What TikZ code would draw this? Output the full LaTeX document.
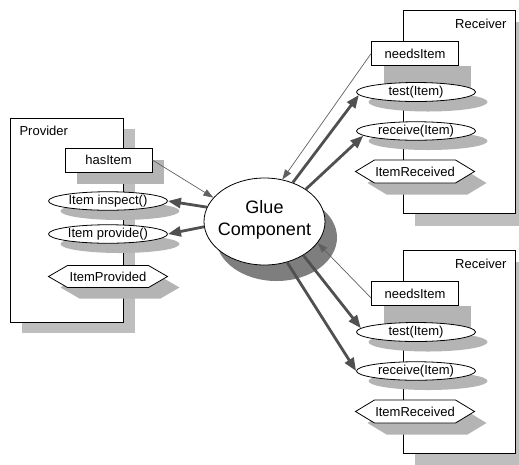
\documentclass[tikz,border=0pt]{standalone}
\usepackage{fontspec}
\setmainfont{Liberation Sans}
\usetikzlibrary{shapes.geometric,arrows.meta}
\definecolor{shd}{HTML}{B4B4B4}
\definecolor{bshd}{HTML}{BEBEBE}
\definecolor{gshd}{HTML}{7E7E7E}
\definecolor{arrc}{HTML}{505050}
\definecolor{thinc}{HTML}{606060}
\newcommand\hexagonat[4]{\path[#1] (#2-59.5,#3) -- (#2-40.5,#3-#4) -- (#2+40.5,#3-#4) -- (#2+59.5,#3) -- (#2+40.5,#3+#4) -- (#2-40.5,#3+#4) -- cycle;}
\begin{document}
\begin{tikzpicture}[x=1pt,y=-1pt,
  lbl/.style={font=\fontsize{13}{15}\selectfont},
  frame/.style={draw=black,line width=0.8pt,fill=white},
  bigbox/.style={frame,minimum width=113pt,minimum height=204pt,inner sep=0pt,anchor=north west},
  rectnode/.style={frame,minimum width=87pt,minimum height=24pt,inner sep=0pt,lbl},
  ellnode/.style={ellipse,frame,minimum width=119pt,minimum height=18.5pt,inner sep=0pt,lbl},
  thinarr/.style={draw=thinc,line width=0.7pt,-{Triangle[length=10pt,width=7pt]}},
  thickarr/.style={draw=arrc,line width=2.8pt,-{Triangle[length=13pt,width=10pt]}}
]
\useasboundingbox (0,0) rectangle (519,464);
% big box shadows
\fill[bshd] (22,129) rectangle (135,333);
\fill[bshd] (415,22) rectangle (530,226);
\fill[bshd] (415,262) rectangle (530,466);
% big boxes
\node[bigbox] (prov) at (10,118) {};
\node[bigbox,minimum width=112pt,minimum height=203pt] (recA) at (403,10) {};
\node[bigbox,minimum width=112pt,minimum height=203pt] (recB) at (403,250) {};
\node[lbl,anchor=base west] (provlbl) at (16,135) {Provider};
\node[lbl,anchor=base east] (recAlbl) at (510,28) {Receiver};
\node[lbl,anchor=base east] (recBlbl) at (510,268) {Receiver};
% element shadows
\fill[shd] (77,160) rectangle (164,184);
\fill[shd] (120,211) ellipse [x radius=59.5,y radius=9];
\fill[shd] (120,244) ellipse [x radius=59.5,y radius=9];
\hexagonat{fill=shd}{120}{287.5}{11}
\fill[shd] (383.5,65.5) rectangle (470.5,89.5);
\fill[shd] (428,102) ellipse [x radius=59.5,y radius=9.5];
\fill[shd] (428,141) ellipse [x radius=59.5,y radius=9];
\hexagonat{fill=shd}{427}{183}{11.5}
\fill[shd] (383.5,305.5) rectangle (470.5,329.5);
\fill[shd] (428,342) ellipse [x radius=59.5,y radius=9.5];
\fill[shd] (428,381) ellipse [x radius=59.5,y radius=9];
\hexagonat{fill=shd}{427}{423}{11.5}
% glue shadow and glue
\fill[gshd] (276.5,237.5) ellipse [x radius=60.5,y radius=43.5];
\node[ellipse,frame,minimum width=121pt,minimum height=87pt,inner sep=0pt] (glue) at (264.5,221.5) {};
\node[font=\fontsize{18}{22}\selectfont,align=center] (gluetxt) at (264.5,220) {Glue\\Component};
% provider elements
\node[rectnode] (hasItem) at (108.5,160) {hasItem};
\node[ellnode] (inspect) at (108,201) {Item inspect()};
\node[ellnode] (provide) at (108,234) {Item provide()};
\hexagonat{draw=black,line width=0.8pt,fill=white}{108}{276.5}{11}
\node[lbl] (hexP) at (108,276.5) {ItemProvided};
% receiver A elements
\node[rectnode] (needsA) at (415,53.5) {needsItem};
\node[ellnode,minimum height=19pt] (testA) at (416,92) {test(Item)};
\node[ellnode] (recvA) at (416,131) {receive(Item)};
\hexagonat{draw=black,line width=0.8pt,fill=white}{415}{171.5}{11.5}
\node[lbl] (hexA) at (415,171.5) {ItemReceived};
% receiver B elements
\node[rectnode] (needsB) at (415,293.5) {needsItem};
\node[ellnode,minimum height=19pt] (testB) at (416,332) {test(Item)};
\node[ellnode] (recvB) at (416,371) {receive(Item)};
\hexagonat{draw=black,line width=0.8pt,fill=white}{415}{411.5}{11.5}
\node[lbl] (hexB) at (415,411.5) {ItemReceived};
% connectors
\draw[thinarr] (hasItem.east) -- (glue.155);
\draw[thickarr] (glue.166) -- (inspect.east);
\draw[thickarr] (glue.185) -- (provide.east);
\draw[thinarr] (needsA.west) -- (glue.67);
\draw[thickarr] (glue.54) -- (testA.183);
\draw[thickarr] (glue.38) -- (recvA.185);
\draw[thinarr] ([yshift=-4.5pt]needsB.west) -- (glue.-22);
\draw[thickarr] (glue.-41) -- (testB.176);
\draw[thickarr] (glue.-61) -- (recvB.west);
\end{tikzpicture}
\end{document}
